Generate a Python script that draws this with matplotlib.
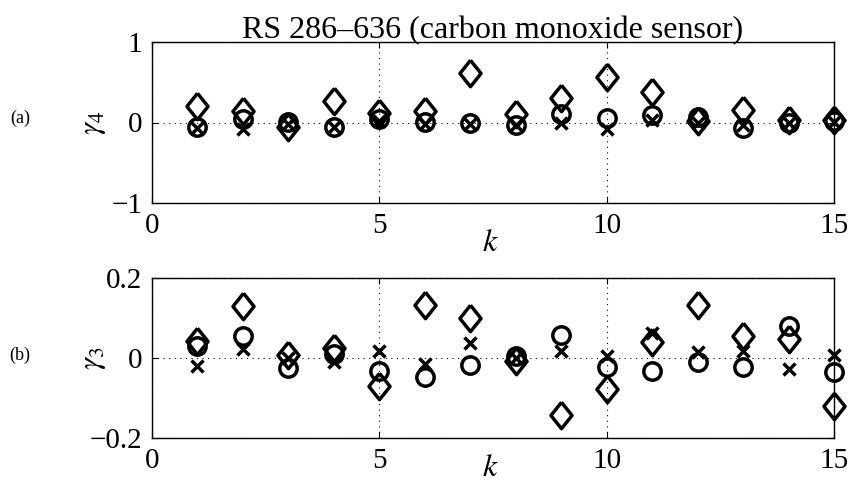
import matplotlib
matplotlib.use("Agg")
import matplotlib.pyplot as plt
import numpy as np

plt.rcParams['font.family'] = ['Liberation Serif', 'DejaVu Serif']
plt.rcParams['mathtext.fontset'] = 'stix'

k = list(range(1, 16))

# panel (a): gamma_4
g4_diamond = [0.21, 0.14, -0.05, 0.27, 0.12, 0.14, 0.62, 0.10, 0.30, 0.57, 0.38, 0.02, 0.16, 0.03, 0.03]
g4_circle = [-0.06, 0.04, 0.01, -0.05, 0.04, 0.01, -0.01, -0.03, 0.10, 0.05, 0.09, 0.07, -0.07, 0.00, 0.02]
g4_cross = [-0.07, -0.08, -0.02, -0.05, 0.02, -0.02, -0.02, -0.03, 0.00, -0.08, 0.03, 0.00, -0.03, 0.00, 0.01]

# panel (b): gamma_3
g3_diamond = [0.042, 0.13, 0.007, 0.025, -0.070, 0.133, 0.100, -0.007, -0.143, -0.077, 0.040, 0.133, 0.055, 0.047, -0.120]
g3_circle = [0.030, 0.054, -0.025, 0.010, -0.032, -0.047, -0.017, 0.005, 0.057, -0.022, -0.032, -0.010, -0.022, 0.080, -0.035]
g3_cross = [-0.020, 0.022, 0.000, -0.010, 0.017, -0.015, 0.037, 0.000, 0.017, 0.005, 0.063, 0.014, 0.017, -0.027, 0.007]

xticks = [0, 5, 10, 15]
xticklabels = ['0', '5', '10', '15']
yticks_a = [-1, 0, 1]
yticklabels_a = ['\u22121', '0', '1']
yticks_b = [-0.2, 0, 0.2]
yticklabels_b = ['\u22120.2', '0', '0.2']

fig = plt.figure(figsize=(8.51, 4.84), dpi=100)
ax1 = fig.add_axes([152/851, 1-203/484, (834-152)/851, (203-42)/484])
ax2 = fig.add_axes([152/851, 1-438/484, (834-152)/851, (438-278)/484])

diamond = [(0, 1), (0.8, 0), (0, -1), (-0.8, 0), (0, 1)]

def draw(ax, dv, cv, xv, yticks, ylabels, ylim, ylab, tag, tagy):
    ax.plot(k, dv, linestyle='none', marker=diamond, markersize=19, markerfacecolor='none',
            markeredgecolor='black', markeredgewidth=2.5, clip_on=False, zorder=3)
    ax.plot(k, cv, linestyle='none', marker='o', markersize=12.5, markerfacecolor='none',
            markeredgecolor='black', markeredgewidth=2.5, clip_on=False, zorder=3)
    ax.plot(k, xv, linestyle='none', marker='x', markersize=8, markeredgecolor='black',
            markeredgewidth=2.5, clip_on=False, zorder=3)
    ax.set_xlim(0, 15)
    ax.set_ylim(*ylim)
    ax.set_xticks(xticks)
    ax.set_xticklabels(xticklabels)
    ax.set_yticks(yticks)
    ax.set_yticklabels(ylabels)
    ax.tick_params(direction='in', length=4, width=0.8, labelsize=21, pad=7, top=True, right=True)
    ax.grid(True, linestyle=(0, (1, 4)), color='black', linewidth=0.8)
    for s in ax.spines.values():
        s.set_linewidth(1.0)
    ax.text((93 - 152) / 682, 0.5, ylab, transform=ax.transAxes, rotation=90, fontsize=22,
            ha='center', va='center')
    fig.text(20/851, tagy, tag, fontsize=13, ha='center', va='center')

draw(ax1, g4_diamond, g4_circle, g4_cross, yticks_a, yticklabels_a, (-1, 1), r'$\gamma_4$', '(a)', 1-118/484)
draw(ax2, g3_diamond, g3_circle, g3_cross, yticks_b, yticklabels_b, (-0.2, 0.2), r'$\gamma_3$', '(b)', 1-355/484)

ax1.set_title('RS 286\u2013636 (carbon monoxide sensor)', fontsize=23, pad=3)
fig.text(490/851, 1-243/484, r'$k$', fontsize=23, ha='center', va='center')
fig.text(490/851, 1-469/484, r'$k$', fontsize=23, ha='center', va='center')

fig.savefig('out.png', dpi=100)
